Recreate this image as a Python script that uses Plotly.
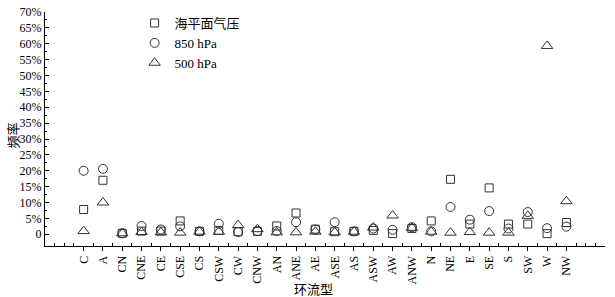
import plotly.graph_objects as go

categories = ["C", "A", "CN", "CNE", "CE", "CSE", "CS", "CSW", "CW", "CNW",
              "AN", "ANE", "AE", "ASE", "AS", "ASW", "AW", "ANW",
              "N", "NE", "E", "SE", "S", "SW", "W", "NW"]

slp_vals = [7.8, 17.0, 0.3, 1.0, 1.0, 4.2, 0.9, 1.2, 0.8, 0.9,
            2.6, 6.7, 1.6, 0.8, 0.9, 1.2, 0.2, 1.8,
            4.2, 17.3, 3.2, 14.6, 3.2, 3.2, 0.2, 3.7]

h850_vals = [20.0, 20.6, 0.3, 2.6, 1.5, 2.5, 0.9, 3.3, 0.7, 1.0,
             1.0, 3.8, 1.5, 3.8, 0.9, 1.8, 1.4, 2.2,
             0.9, 8.6, 4.6, 7.3, 1.8, 7.0, 1.9, 2.4]

h500_vals = [1.0, 10.0, 0.3, 0.7, 0.6, 0.5, 0.8, 0.8, 2.9, 1.6,
             0.6, 0.6, 0.8, 0.6, 0.8, 2.1, 5.9, 2.0,
             0.8, 0.5, 0.7, 0.5, 0.5, 5.8, 59.3, 10.4]

series_names = ["海平面气压", "850 hPa", "500 hPa"]
y_tick_vals = list(range(0, 75, 5))
y_tick_text = ["0"] + [f"{v}%" for v in range(5, 75, 5)]

xpos = list(range(len(categories)))
mcol = "#333333"
serif = "Liberation Serif, Times New Roman, serif"
cjk = "Noto Sans CJK SC"

fig = go.Figure()
symbols = ["square-open", "circle-open", "triangle-up-open"]
sizes = [8, 9, 10]
for name, vals, sym, sz in zip(series_names, [slp_vals, h850_vals, h500_vals], symbols, sizes):
    fig.add_trace(go.Scatter(
        x=xpos, y=vals, mode="markers", name=name,
        marker=dict(symbol=sym, size=sz, color=mcol, line=dict(color=mcol, width=1)),
    ))

x_minor = [i / 2 for i in range(-3, 54) if i % 2 != 0 or i / 2 < 0 or i / 2 > 25]

fig.update_layout(
    width=615, height=297,
    margin=dict(l=45, r=10, t=12, b=51, autoexpand=False),
    plot_bgcolor="white", paper_bgcolor="white",
    font=dict(family=serif, size=12, color="black"),
    showlegend=True,
    legend=dict(x=0.16, y=1.017, xanchor="left", yanchor="top",
                bgcolor="rgba(0,0,0,0)", font=dict(family=serif + ", " + cjk, size=13),
                itemwidth=30, tracegroupgap=0),
    xaxis=dict(
        range=[-2, 27], showgrid=False, zeroline=False, automargin=False,
        showline=True, linecolor="black", linewidth=1,
        tickmode="array", tickvals=xpos, ticktext=categories,
        tickangle=-90, ticks="outside", ticklen=4, tickcolor="black",
        tickfont=dict(family=serif, size=12),
        minor=dict(tickmode="array", tickvals=x_minor, ticks="inside", ticklen=3, tickcolor="black"),
    ),
    yaxis=dict(
        range=[-3.7, 70], showgrid=False, zeroline=False, automargin=False,
        showline=True, linecolor="black", linewidth=1,
        tickmode="array", tickvals=y_tick_vals, ticktext=y_tick_text,
        ticks="inside", ticklen=4, tickcolor="black",
        tickfont=dict(family=serif, size=12),
        minor=dict(tickmode="array", tickvals=[v + 2.5 for v in range(0, 70, 5)],
                   ticks="inside", ticklen=2, tickcolor="black"),
    ),
    annotations=[
        dict(text="频率", xref="paper", yref="paper", x=-0.058, y=0.47,
             xanchor="center", yanchor="middle", showarrow=False, textangle=-90,
             font=dict(family=cjk, size=13, color="black")),
        dict(text="环流型", xref="paper", yref="paper", x=0.48, y=-0.18,
             xanchor="center", yanchor="middle", showarrow=False,
             font=dict(family=cjk, size=13, color="black")),
    ],
)

fig.write_html("out.html", config={"displayModeBar": False},
               post_script="document.body.style.margin='0';document.body.style.overflow='hidden';")
